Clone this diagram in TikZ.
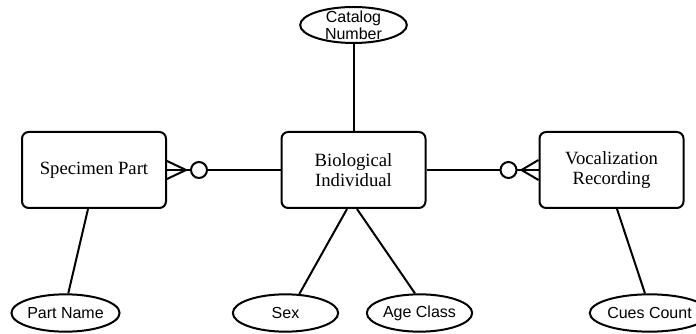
\documentclass[tikz,border=0pt]{standalone}
\usepackage{fontspec}
\setmainfont{Liberation Serif}
\setsansfont{Liberation Sans}
\usetikzlibrary{shapes.geometric,calc}

\tikzset{
    entity/.style={draw, line width=1.5pt, rounded corners=5pt, minimum width=108pt,
        minimum height=57pt, align=center, font=\fontsize{14}{15}\selectfont},
    attr/.style={draw, ellipse, line width=1.5pt, minimum width=79pt, minimum height=28pt,
        inner sep=0pt, font=\sffamily\fontsize{12}{12.75}\selectfont},
    link/.style={line width=1.5pt},
}

\begin{document}
\begin{tikzpicture}[x=0.75pt, y=-0.75pt]
    \useasboundingbox (0,0) rectangle (696,334);

    \node[entity] (spec) at (94,170) {Specimen Part};
    \node[entity] (bio) at (353.5,170) {Biological\\Individual};
    \node[entity] (voc) at (611.5,170) {Vocalization\\Recording};

    \node[attr, minimum width=80pt, minimum height=27pt,
        label={[font=\sffamily\fontsize{12}{12.75}\selectfont, align=center]center:Catalog\\Number}]
        (catno) at (353.5,25) {};
    \node[attr] (pname) at (65.5,313) {Part Name};
    \node[attr] (sex) at (285.5,313) {Sex};
    \node[attr] (age) at (419.5,313) {Age Class};
    \node[attr] (cues) at (649.5,313) {Cues Count};

    % attributes
    \draw[link] (catno) -- (bio);
    \draw[link] ($(spec.south)+(-6,0)$) -- (pname.82);
    \draw[link] ($(bio.south)+(-6.5,0)$) -- (sex.54);
    \draw[link] ($(bio.south)+(3.5,0)$) -- (age.103);
    \draw[link] ($(voc.south)+(5.5,0)$) -- (cues.103);

    % relationships, zero or many at the outer ends
    \draw[link] (spec) -- (bio);
    \draw[link] ($(spec.east)+(0,-9)$) -- ($(spec.east)+(19,0)$) -- ($(spec.east)+(0,9)$);
    \draw[link, fill=white] ($(spec.east)+(32,0)$) circle[radius=6pt];

    \draw[link] (bio) -- (voc);
    \draw[link] ($(voc.west)+(0,-10)$) -- ($(voc.west)+(-17,0)$) -- ($(voc.west)+(0,10)$);
    \draw[link, fill=white] ($(voc.west)+(-30,0)$) circle[radius=6pt];
\end{tikzpicture}
\end{document}
